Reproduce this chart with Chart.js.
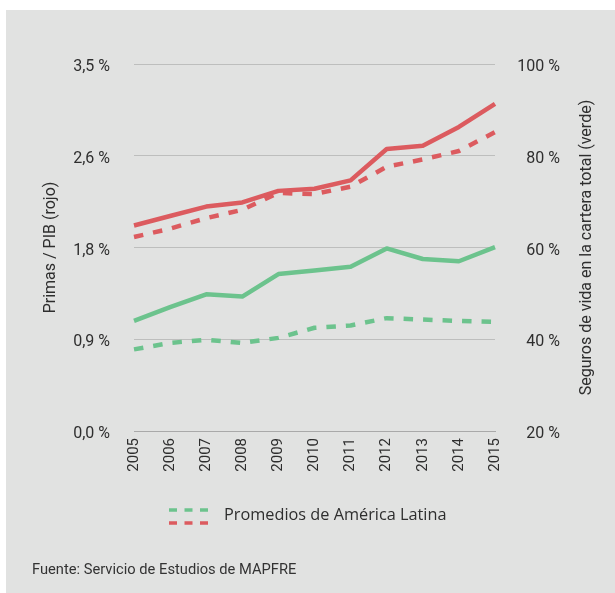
<!DOCTYPE html>
<html>
<head>
<meta charset="utf-8">
<script src="https://cdn.jsdelivr.net/npm/chart.js@4/dist/chart.umd.min.js"></script>
<style>
  html, body { margin: 0; padding: 0; background: #fff; }
  #panel {
    position: absolute; left: 6px; top: 10px;
    width: 609px; height: 583px;
    background: #e1e2e1;
  }
  #chart { position: absolute; left: 0; top: 0; }
  #source {
    position: absolute; left: 26px; top: 550px;
    font: 14.7px Roboto, sans-serif; color: #333;
  }
</style>
</head>
<body>
<div id="panel">
  <canvas id="chart" width="609" height="583"></canvas>
  <div id="source">Fuente: Servicio de Estudios de MAPFRE</div>
</div>
<script>
/* ── Data ─────────────────────────────────────────────────────────────── */
const years = ['2005','2006','2007','2008','2009','2010','2011','2012','2013','2014','2015'];

// Primas / PIB (%), left axis
const primasPais   = [1.96, 2.05, 2.14, 2.18, 2.29, 2.31, 2.39, 2.69, 2.72, 2.90, 3.12];
const primasLatam  = [1.85, 1.93, 2.03, 2.11, 2.27, 2.26, 2.33, 2.52, 2.59, 2.67, 2.85];

// Seguros de vida en la cartera total (%), right axis
const vidaPais     = [44.0, 47.0, 49.8, 49.3, 54.2, 55.0, 55.8, 59.8, 57.5, 57.0, 60.1];
const vidaLatam    = [37.8, 39.2, 39.9, 39.2, 40.3, 42.5, 43.0, 44.6, 44.3, 44.0, 43.8];

const leftTicks       = [0, 0.875, 1.75, 2.625, 3.5];
const leftTickLabels  = ['0,0 %', '0,9 %', '1,8 %', '2,6 %', '3,5 %'];
const rightTicks      = [20, 40, 60, 80, 100];
const rightTickLabels = ['20 %', '40 %', '60 %', '80 %', '100 %'];

const leftTitle   = 'Primas / PIB (rojo)';
const rightTitle  = 'Seguros de vida en la cartera total (verde)';
const legendLabel = 'Promedios de América Latina';

/* ── Style ────────────────────────────────────────────────────────────── */
const RED   = '#dc5b5f';
const GREEN = '#6cc38d';
const DASH  = [9.5, 10];
const TEXT  = '#2e2e2e';

Chart.defaults.font.family = 'Roboto, sans-serif';
Chart.defaults.font.size   = 16;
Chart.defaults.color       = TEXT;

function line(label, data, color, axis, dashed) {
  return {
    label, data, yAxisID: axis,
    borderColor: color,
    borderWidth: 4.5,
    borderDash: dashed ? DASH : [],
    borderCapStyle: 'butt',
    borderJoinStyle: 'round',
    pointRadius: 0,
    tension: 0,
    fill: false,
  };
}

/* right-axis title reads bottom-to-top, and the two-row dashed legend */
const extras = {
  id: 'extras',
  afterDraw(chart) {
    const { ctx, chartArea } = chart;
    ctx.save();
    ctx.fillStyle = TEXT;
    ctx.font = '16px Roboto, sans-serif';
    ctx.textAlign = 'center';
    ctx.textBaseline = 'middle';
    ctx.translate(581, (chartArea.top + chartArea.bottom) / 2);
    ctx.rotate(-Math.PI / 2);
    ctx.fillText(rightTitle, 0, 0);
    ctx.restore();

    ctx.save();
    ctx.lineWidth = 3.5;
    ctx.setLineDash([8, 7.5]);
    [[GREEN, 500], [RED, 513]].forEach(([c, y]) => {
      ctx.strokeStyle = c;
      ctx.beginPath();
      ctx.moveTo(163, y);
      ctx.lineTo(202, y);
      ctx.stroke();
    });
    ctx.fillStyle = TEXT;
    ctx.font = '16.3px "Open Sans", sans-serif';
    ctx.textBaseline = 'middle';
    ctx.fillText(legendLabel, 218, 505);
    ctx.restore();
  },
};

new Chart(document.getElementById('chart'), {
  type: 'line',
  data: {
    labels: years,
    datasets: [
      line('Primas / PIB', primasPais, RED, 'y', false),
      line('Primas / PIB (América Latina)', primasLatam, RED, 'y', true),
      line('Vida / total', vidaPais, GREEN, 'y1', false),
      line('Vida / total (América Latina)', vidaLatam, GREEN, 'y1', true),
    ],
  },
  options: {
    responsive: false,
    devicePixelRatio: 1,
    animation: false,
    layout: { padding: { top: 54, left: 0, right: 55, bottom: 102 } },
    plugins: { legend: { display: false }, tooltip: { enabled: false } },
    scales: {
      x: {
        offset: false,
        grid: { display: false, drawTicks: false },
        border: { display: true, color: '#a9a9a9', width: 1, dash: [3, 3] },
        ticks: { autoSkip: false, maxRotation: 90, minRotation: 90, padding: 7, font: { size: 15 } },
        afterFit: s => { s.height = 60; },
      },
      y: {
        position: 'left',
        min: 0, max: 3.5,
        afterBuildTicks: s => { s.ticks = leftTicks.map(v => ({ value: v })); },
        ticks: { padding: 24, labelOffset: 3, callback: (v, i) => leftTickLabels[i] },
        grid: {
          drawTicks: false,
          color: c => c.index === 0 ? 'rgba(0,0,0,0)' : '#bdbebd',
          lineWidth: 1,
        },
        border: { display: false },
        title: { display: true, text: leftTitle, padding: { top: 35, bottom: 0 } },
        afterFit: s => { s.width = 128; },
      },
      y1: {
        position: 'right',
        min: 20, max: 100,
        afterBuildTicks: s => { s.ticks = rightTicks.map(v => ({ value: v })); },
        ticks: { crossAlign: 'far', padding: 20, labelOffset: 3, callback: (v, i) => rightTickLabels[i] },
        grid: { display: false, drawTicks: false },
        border: { display: false },
        afterFit: s => { s.width = 65; },
      },
    },
  },
  plugins: [extras],
});
</script>
</body>
</html>
